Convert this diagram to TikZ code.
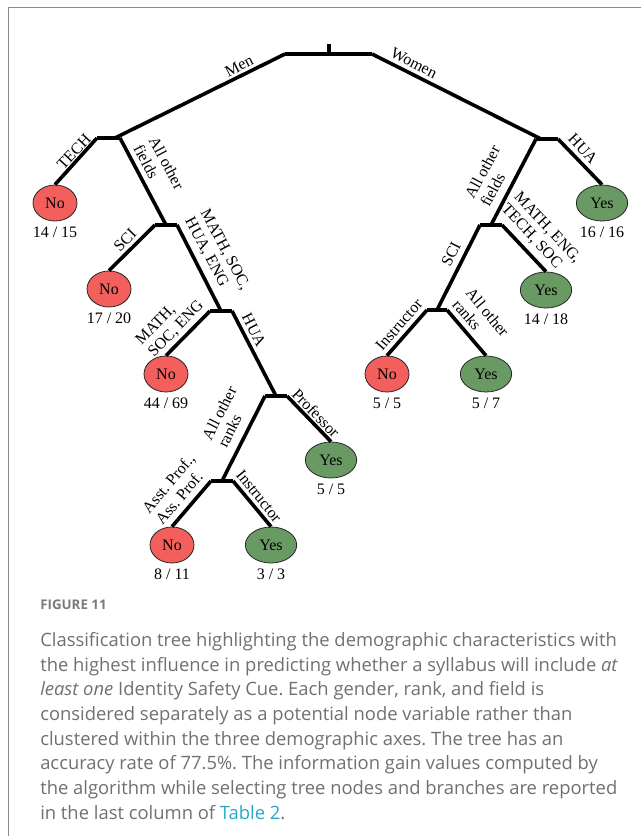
\documentclass[tikz,border=0pt]{standalone}
\usepackage{fontspec}
\setmainfont{Liberation Serif}
\newfontfamily\capfont{Open Sans}
\usetikzlibrary{shapes.geometric}
\definecolor{leafred}{HTML}{F25F5C}
\definecolor{leafgreen}{HTML}{6A9A64}
\definecolor{framegray}{HTML}{8C8C8C}
\definecolor{captext}{HTML}{707070}
\definecolor{caphead}{HTML}{7A7A7A}
\definecolor{linkc}{HTML}{27A9C6}
\begin{document}
\frenchspacing
\begin{tikzpicture}[x=0.75pt,y=-0.75pt,
  branch/.style={line width=2.7pt},
  leaf/.style={ellipse, draw=black!85, line width=0.6pt, minimum height=27pt, inner sep=1pt, font=\fontsize{12}{12}\selectfont},
  noleaf/.style={leaf, fill=leafred, minimum width=33pt},
  yesleaf/.style={leaf, fill=leafgreen, minimum width=38.5pt},
  count/.style={font=\fontsize{12}{12}\selectfont, inner sep=0pt, anchor=north},
  elabel/.style={font=\fontsize{12}{13}\selectfont, align=left, inner sep=0pt},
]
\useasboundingbox (0,0) rectangle (641,836);
% frame (left and top edges)
\draw[framegray, line width=1.2pt] (8.5,836) -- (8.5,7.5) -- (641,7.5);

% decision points
\coordinate (rtop) at (329,44);
\coordinate (r) at (329,54);
\coordinate (rL) at (285,54);
\coordinate (rR) at (372,54);
\coordinate (n1in) at (115,138); \coordinate (n1L) at (97,138);  \coordinate (n1R) at (120,138);
\coordinate (n2in) at (166,225); \coordinate (n2L) at (155,225); \coordinate (n2R) at (177,225);
\coordinate (n3in) at (221,311); \coordinate (n3L) at (210,311); \coordinate (n3R) at (232,311);
\coordinate (n4in) at (276,396); \coordinate (n4L) at (265,396); \coordinate (n4R) at (287,396);
\coordinate (n5in) at (222,481); \coordinate (n5L) at (211,481); \coordinate (n5R) at (233,481);
\coordinate (n6in) at (541,139); \coordinate (n6L) at (536,139); \coordinate (n6R) at (558,139);
\coordinate (n7in) at (491,225); \coordinate (n7L) at (480,225); \coordinate (n7R) at (502,225);
\coordinate (n8in) at (437,310); \coordinate (n8L) at (427,310); \coordinate (n8R) at (447,310);

% leaves
\node[noleaf]  (l1)  at (55,203)  {No};
\node[noleaf]  (l2)  at (109,289) {No};
\node[noleaf]  (l3)  at (166,374) {No};
\node[yesleaf] (l4)  at (331,460) {Yes};
\node[noleaf]  (l5)  at (172,545) {No};
\node[yesleaf] (l6)  at (271,545) {Yes};
\node[yesleaf] (l7)  at (602,203) {Yes};
\node[yesleaf] (l8)  at (546,290) {Yes};
\node[noleaf]  (l9)  at (387,374) {No};
\node[yesleaf] (l10) at (486,374) {Yes};

\node[count] (c1)  at ([yshift=-4pt]l1.south)  {14 / 15};
\node[count] (c2)  at ([yshift=-4pt]l2.south)  {17 / 20};
\node[count] (c3)  at ([yshift=-4pt]l3.south)  {44 / 69};
\node[count] (c4)  at ([yshift=-4pt]l4.south)  {5 / 5};
\node[count] (c5)  at ([yshift=-4pt]l5.south)  {8 / 11};
\node[count] (c6)  at ([yshift=-4pt]l6.south)  {3 / 3};
\node[count] (c7)  at ([yshift=-4pt]l7.south)  {16 / 16};
\node[count] (c8)  at ([yshift=-4pt]l8.south)  {14 / 18};
\node[count] (c9)  at ([yshift=-4pt]l9.south)  {5 / 5};
\node[count] (c10) at ([yshift=-4pt]l10.south) {5 / 7};

% branches
\draw[branch] (rtop) -- (r);
\draw[branch] (rL) -- (rR);
\draw[branch] (n1L) -- (n1R);
\draw[branch] (n2L) -- (n2R);
\draw[branch] (n3L) -- (n3R);
\draw[branch] (n4L) -- (n4R);
\draw[branch] (n5L) -- (n5R);
\draw[branch] (n6L) -- (n6R);
\draw[branch] (n7L) -- (n7R);
\draw[branch] (n8L) -- (n8R);

\draw[branch] (rL) -- (n1in);
\draw[branch] (rR) -- (n6in);
\draw[branch] (n1L) -- (l1.north);
\draw[branch] (n1R) -- (n2in);
\draw[branch] (n2L) -- (l2.north);
\draw[branch] (n2R) -- (n3in);
\draw[branch] (n3L) -- (l3.north);
\draw[branch] (n3R) -- (n4in);
\draw[branch] (n4L) -- (n5in);
\draw[branch] (n4R) -- (l4.north);
\draw[branch] (n5L) -- (l5.north);
\draw[branch] (n5R) -- (l6.north);
\draw[branch] (n6L) -- (n7in);
\draw[branch] (n6R) -- (l7.north);
\draw[branch] (n7L) -- (n8in);
\draw[branch] (n7R) -- (l8.north);
\draw[branch] (n8L) -- (l9.north);
\draw[branch] (n8R) -- (l10.north);

% edge labels
\node[elabel, rotate=27]  (e1)  at (239,66)  {Men};
\node[elabel, rotate=-27] (e2)  at (414,63)  {Women};
\node[elabel, rotate=47]  (e3)  at (74,152)  {TECH};
\node[elabel, rotate=-62] (e4)  at (159,167) {All other\\fields};
\node[elabel, rotate=46]  (e5)  at (125,240) {SCI};
\node[elabel, rotate=-62] (e6)  at (217,254) {MATH, SOC,\\HUA, ENG};
\node[elabel, rotate=46]  (e7)  at (170,323) {MATH,\\SOC, ENG};
\node[elabel, rotate=-63] (e8)  at (254,330) {HUA};
\node[elabel, rotate=-46] (e9)  at (316,413) {Professor};
\node[elabel, rotate=63]  (e10) at (227,417) {All other\\ranks};
\node[elabel, rotate=50]  (e11) at (175,489) {Asst. Prof.,\\Ass. Prof.};
\node[elabel, rotate=-51] (e12) at (259,496) {Instructor};
\node[elabel, rotate=-47] (e13) at (583,149) {HUA};
\node[elabel, rotate=62]  (e14) at (490,176) {All other\\fields};
\node[elabel, rotate=-47] (e15) at (541,234) {MATH, ENG,\\TECH, SOC};
\node[elabel, rotate=63]  (e16) at (451,254) {SCI};
\node[elabel, rotate=49]  (e17) at (399,325) {Instructor};
\node[elabel, rotate=-50] (e18) at (481,318) {All other\\ranks};

% caption
\node[anchor=base west, inner sep=0pt, font=\capfont\bfseries\fontsize{10}{10}\selectfont, text=caphead] (fig) at (40,609) {FIGURE 11};
\node[anchor=north west, inner sep=0pt, align=left, text=captext,
      font=\capfont\fontsize{13.8}{18.5}\selectfont] (cap) at (40,632)
 {Classification tree highlighting the demographic characteristics with\\
  the highest influence in predicting whether a syllabus will include \textit{at}\\
  \textit{least one} Identity Safety Cue. Each gender, rank, and field is\\
  considered separately as a potential node variable rather than\\
  clustered within the three demographic axes. The tree has an\\
  accuracy rate of 77.5\%. The information gain values computed by\\
  the algorithm while selecting tree nodes and branches are reported\\
  in the last column of \textcolor{linkc}{Table 2}.};
\end{tikzpicture}
\end{document}
